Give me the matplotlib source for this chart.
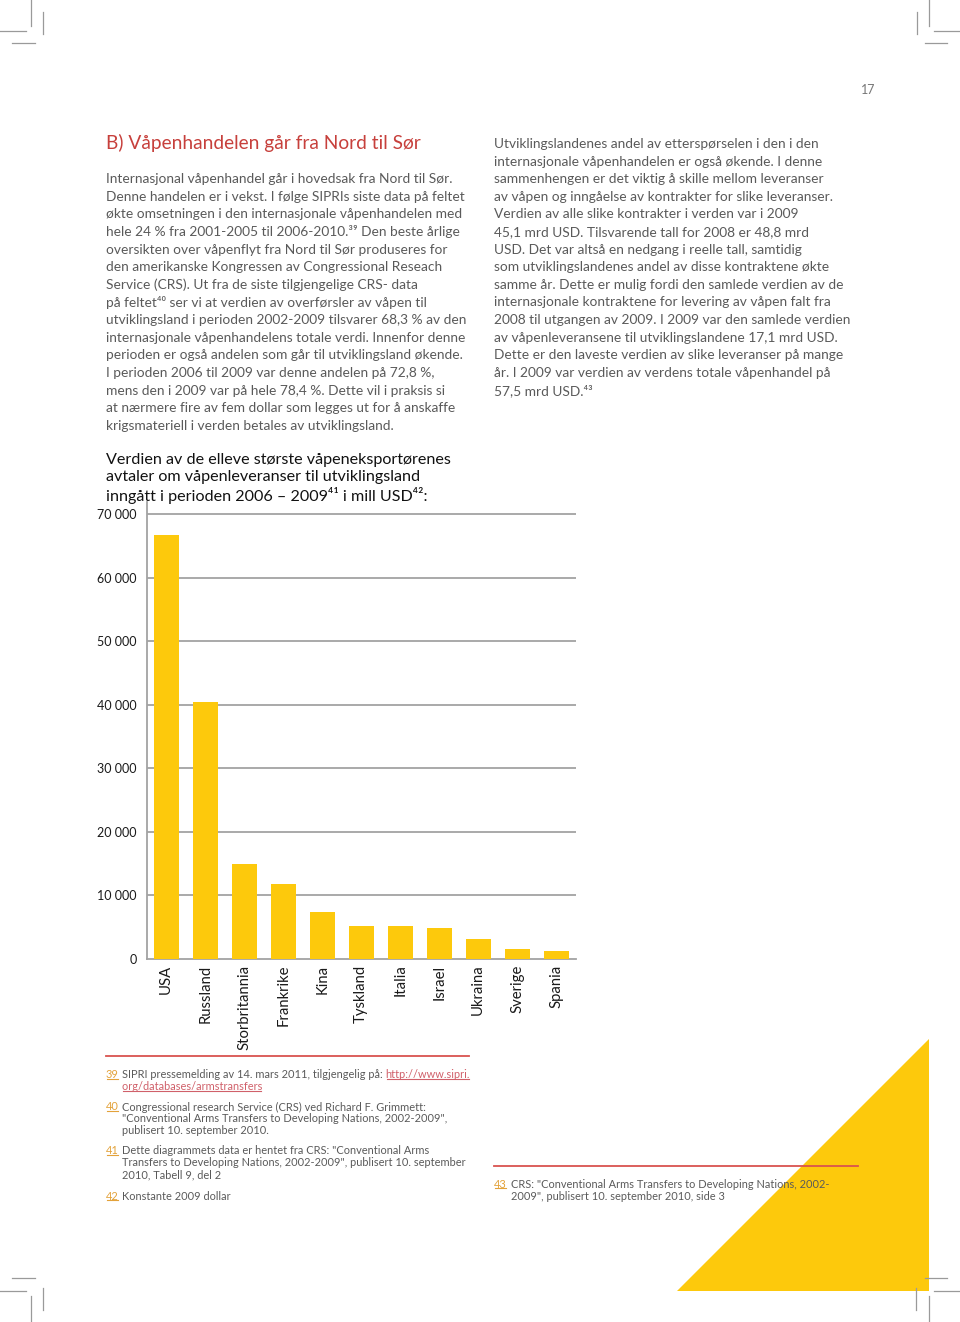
import matplotlib
matplotlib.use("Agg")
import matplotlib.pyplot as plt
from matplotlib.patches import Polygon

plt.rcParams['font.family'] = ['Lato', 'DejaVu Sans']

# chart data
countries = ["USA", "Russland", "Storbritannia", "Frankrike", "Kina", "Tyskland",
             "Italia", "Israel", "Ukraina", "Sverige", "Spania"]
values = [66700, 40400, 15000, 11800, 7400, 5200, 5200, 4800, 3100, 1500, 1300]
yticks = [0, 10000, 20000, 30000, 40000, 50000, 60000, 70000]
ytick_labels = ["0", "10 000", "20 000", "30 000", "40 000", "50 000", "60 000", "70 000"]

title = "B) Våpenhandelen går fra Nord til Sør"
left_col = [
    "Internasjonal våpenhandel går i hovedsak fra Nord til Sør.",
    "Denne handelen er i vekst. I følge SIPRIs siste data på feltet",
    "økte omsetningen i den internasjonale våpenhandelen med",
    "hele 24 % fra 2001-2005 til 2006-2010.³⁹ Den beste årlige",
    "oversikten over våpenflyt fra Nord til Sør produseres for",
    "den amerikanske Kongressen av Congressional Reseach",
    "Service (CRS). Ut fra de siste tilgjengelige CRS- data",
    "på feltet⁴⁰ ser vi at verdien av overførsler av våpen til",
    "utviklingsland i perioden 2002-2009 tilsvarer 68,3 % av den",
    "internasjonale våpenhandelens totale verdi. Innenfor denne",
    "perioden er også andelen som går til utviklingsland økende.",
    "I perioden 2006 til 2009 var denne andelen på 72,8 %,",
    "mens den i 2009 var på hele 78,4 %. Dette vil i praksis si",
    "at nærmere fire av fem dollar som legges ut for å anskaffe",
    "krigsmateriell i verden betales av utviklingsland.",
]
right_col = [
    "Utviklingslandenes andel av etterspørselen i den i den",
    "internasjonale våpenhandelen er også økende. I denne",
    "sammenhengen er det viktig å skille mellom leveranser",
    "av våpen og inngåelse av kontrakter for slike leveranser.",
    "Verdien av alle slike kontrakter i verden var i 2009",
    "45,1 mrd USD. Tilsvarende tall for 2008 er 48,8 mrd",
    "USD. Det var altså en nedgang i reelle tall, samtidig",
    "som utviklingslandenes andel av disse kontraktene økte",
    "samme år. Dette er mulig fordi den samlede verdien av de",
    "internasjonale kontraktene for levering av våpen falt fra",
    "2008 til utgangen av 2009. I 2009 var den samlede verdien",
    "av våpenleveransene til utviklingslandene 17,1 mrd USD.",
    "Dette er den laveste verdien av slike leveranser på mange",
    "år. I 2009 var verdien av verdens totale våpenhandel på",
    "57,5 mrd USD.⁴³",
]
chart_heading = [
    "Verdien av de elleve største våpeneksportørenes",
    "avtaler om våpenleveranser til utviklingsland",
    "inngått i perioden 2006 – 2009⁴¹ i mill USD⁴²:",
]
notes = [
    ("39", ["SIPRI pressemelding av 14. mars 2011, tilgjengelig på: "]),
    ("40", ["Congressional research Service (CRS) ved Richard F. Grimmett:",
            "\"Conventional Arms Transfers to Developing Nations, 2002-2009\",",
            "publisert 10. september 2010."]),
    ("41", ["Dette diagrammets data er hentet fra CRS: \"Conventional Arms",
            "Transfers to Developing Nations, 2002-2009\", publisert 10. september",
            "2010, Tabell 9, del 2"]),
    ("42", ["Konstante 2009 dollar"]),
]
note43 = ("43", ["CRS: \"Conventional Arms Transfers to Developing Nations, 2002-",
                 "2009\", publisert 10. september 2010, side 3"])

yellow = "#fdc90c"
red = "#c7403c"
gray_txt = "#5a5a5a"
note_num = "#e3a23a"
link_col = "#d0606a"

fig = plt.figure(figsize=(9.6, 13.22), dpi=100)
page = fig.add_axes([0, 0, 1, 1])
page.set_xlim(0, 960)
page.set_ylim(1322, 0)
page.axis('off')

# yellow triangle
page.add_patch(Polygon([(677, 1291), (929, 1291), (929, 1039)], closed=True,
                       facecolor=yellow, edgecolor='none', zorder=1))

# crop marks
cm_col = "#9a9a9a"
marks = [
    ((31, 31), (0, 26)), ((0, 26), (31, 31)), ((43, 43), (12, 34)), ((12, 35), (43, 43)),
    ((929, 929), (0, 26)), ((934, 960), (31, 31)), ((917, 917), (12, 34)), ((925, 947), (43, 43)),
    ((0, 26), (1291, 1291)), ((31, 31), (1296, 1322)), ((12, 35), (1278, 1278)), ((43, 43), (1288, 1310)),
    ((934, 960), (1291, 1291)), ((929, 929), (1296, 1322)), ((925, 947), (1278, 1278)), ((916, 916), (1288, 1310)),
]
for xs, ys in marks:
    page.plot(xs, ys, color=cm_col, lw=0.9, zorder=2)

page.text(868, 90, "17", fontsize=9, color="#777777", ha='center', va='center')

page.text(106, 143, title, fontsize=13.8, color=red, ha='left', va='center')
for i, line in enumerate(left_col):
    page.text(106, 179 + i * 17.64, line, fontsize=9.95, color=gray_txt, ha='left', va='center')
for i, line in enumerate(right_col):
    page.text(494, 144 + i * 17.6, line, fontsize=9.95, color=gray_txt, ha='left', va='center')
for i, line in enumerate(chart_heading):
    page.text(106, 460 + i * 17.5, line, fontsize=11.6, color="#111111", ha='left', va='center')

# footnotes
page.plot([106, 469], [1056, 1056], color="#d9534f", lw=1.3, zorder=3)
page.plot([494, 858], [1166, 1166], color="#d9534f", lw=1.3, zorder=3)

note_y = [1075, 1107, 1151, 1196]
num_artists = []
first_line = None
for (num, lines), y0 in zip(notes, note_y):
    num_artists.append(page.text(106, y0, num, fontsize=7.9, color=note_num, ha='left', va='center'))
    for j, line in enumerate(lines):
        t = page.text(122, y0 + j * 12, line, fontsize=7.9, color=gray_txt, ha='left', va='center')
        if first_line is None:
            first_line = t
link1 = page.annotate("http://www.sipri.", xy=(1, 0), xycoords=first_line, ha='left', va='bottom',
                      fontsize=7.9, color=link_col)
link2 = page.text(122, 1087, "org/databases/armstransfers ", fontsize=7.9, color=link_col,
                  ha='left', va='center')
num_artists.append(page.text(494, 1184, note43[0], fontsize=7.9, color=note_num, ha='left', va='center'))
for j, line in enumerate(note43[1]):
    page.text(511, 1184 + j * 12, line, fontsize=7.9, color=gray_txt, ha='left', va='center', zorder=4)

# chart
ax = fig.add_axes([146.7 / 960, 1 - 959 / 1322, (575.7 - 146.7) / 960, (959 - 502) / 1322])
ax.set_facecolor('none')
ax.bar(range(len(countries)), values, width=0.65, color=yellow, zorder=3)
ax.set_xlim(-0.5, len(countries) - 0.5)
ax.set_ylim(0, 70000 * (959 - 502) / (959 - 514))
ax.set_yticks(yticks)
ax.set_yticklabels(ytick_labels)
for v in yticks[1:]:
    ax.axhline(v, color="#a3a3a3", lw=1.3, zorder=1)
ax.set_xticks(range(len(countries)))
ax.set_xticklabels(countries, rotation=90, fontsize=10.7, color="#1a1a1a")
ax.tick_params(axis='x', length=0, pad=4)
ax.tick_params(axis='y', length=0, pad=7, labelsize=9, labelcolor="#1a1a1a")
for s in ['top', 'right']:
    ax.spines[s].set_visible(False)
for s in ['left', 'bottom']:
    ax.spines[s].set_color("#a3a3a3")
    ax.spines[s].set_linewidth(1.3)

# underline footnote numbers and link
fig.canvas.draw()
r = fig.canvas.get_renderer()
inv = page.transData.inverted()
for t in num_artists + [link1, link2]:
    bb = t.get_window_extent(r)
    (x0, y0), (x1, y1) = inv.transform([(bb.x0 + 1, bb.y0 + 2), (bb.x1 - 1, bb.y0 + 2)])
    c = note_num if t in num_artists else link_col
    if t is link2:
        x1 -= 3
    page.plot([x0, x1], [y0, y1], color=c, lw=0.8, zorder=4)

fig.savefig("out.png", dpi=100)
